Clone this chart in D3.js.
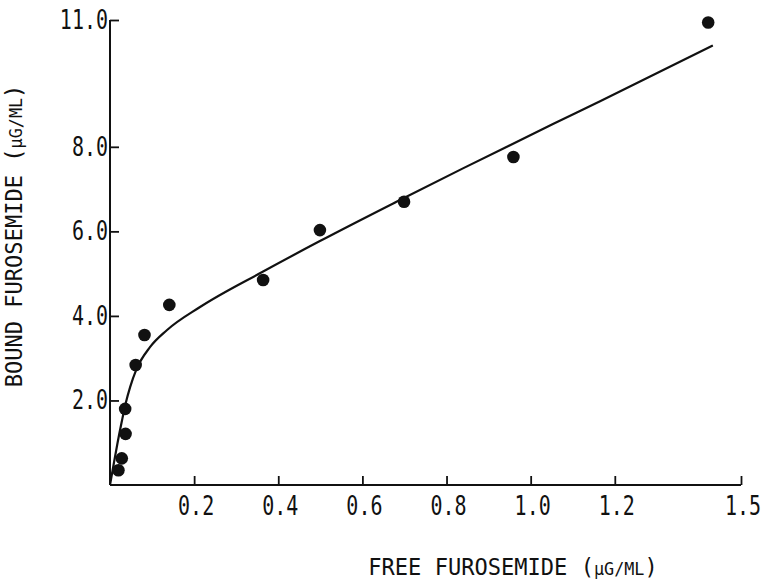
<!DOCTYPE html>
<html>
<head>
<meta charset="utf-8">
<script src="https://cdn.jsdelivr.net/npm/d3@7"></script>
<style>
  body { margin: 0; background: #fff; }
  text { font-family: "DejaVu Sans Mono", monospace; fill: #111; }
</style>
</head>
<body>
<div id="chart"></div>
<script>
/* DATA */
// measured points: free (x) vs bound (y) furosemide, ug/mL
const freeConc = [0.020, 0.028, 0.037, 0.036, 0.061, 0.082, 0.141, 0.364, 0.499, 0.699, 0.959, 1.422];
const boundConc = [0.35, 0.63, 1.21, 1.80, 2.84, 3.55, 4.26, 4.85, 6.03, 6.70, 7.76, 10.94];

// fitted curve
const fitX = [0, 0.008, 0.018, 0.028, 0.037, 0.048, 0.063, 0.095, 0.135, 0.214, 0.364, 0.499, 0.681, 0.839, 1.053, 1.165, 1.433];
const fitY = [0, 0.45, 1.0, 1.5, 1.92, 2.32, 2.74, 3.26, 3.66, 4.21, 5.05, 5.77, 6.70, 7.49, 8.54, 9.08, 10.4];

const xTicks = [0.2, 0.4, 0.6, 0.8, 1.0, 1.2, 1.5];
const yTicks = [2.0, 4.0, 6.0, 8.0, 11.0];

/* LAYOUT */
const width = 766,
  height = 584,
  margin = { top: 20, bottom: 99, left: 110, right: 25 },
  radius = 6.3,
  tickLen = 9;

const svg = d3.select("#chart")
  .append("svg")
  .attr("width", width)
  .attr("height", height);

// scales
const xScale = d3.scaleLinear()
  .domain([0, 1.5])
  .range([margin.left, width - margin.right]);

const yScale = d3.scaleLinear()
  .domain([0, 11])
  .range([height - margin.bottom, margin.top]);

const fmt = d3.format(".1f");
const y0 = yScale(0);

// y axis: ticks point inward (right), labels left
const yAxis = d3.axisRight(yScale)
  .tickValues(yTicks)
  .tickSize(tickLen)
  .tickFormat("");

svg.append("g")
  .attr("class", "axis y-axis")
  .attr("transform", `translate(${margin.left},0)`)
  .call(yAxis)
  .call(g => g.select(".domain").remove())
  .call(g => g.selectAll(".tick line").attr("stroke", "#111").attr("stroke-width", 1.8));

svg.append("line")
  .attr("x1", margin.left).attr("x2", margin.left)
  .attr("y1", yScale(11)).attr("y2", y0)
  .attr("stroke", "#111").attr("stroke-width", 2);

svg.selectAll(".ylab")
  .data(yTicks)
  .join("text")
  .attr("class", "ylab")
  .attr("text-anchor", "end")
  .attr("font-size", 20)
  .attr("transform", d => `translate(${margin.left - 2},${yScale(d) + 9}) scale(1,1.3)`)
  .text(d => fmt(d));

// x axis: ticks point up
const xAxis = d3.axisTop(xScale)
  .tickValues(xTicks)
  .tickSize(tickLen)
  .tickFormat("");

svg.append("g")
  .attr("class", "axis x-axis")
  .attr("transform", `translate(0,${y0})`)
  .call(xAxis)
  .call(g => g.select(".domain").remove())
  .call(g => g.selectAll(".tick line").attr("stroke", "#111").attr("stroke-width", 1.8));

svg.append("line")
  .attr("x1", margin.left).attr("x2", xScale(1.5))
  .attr("y1", y0).attr("y2", y0)
  .attr("stroke", "#111").attr("stroke-width", 2);

svg.selectAll(".xlab")
  .data(xTicks)
  .join("text")
  .attr("class", "xlab")
  .attr("text-anchor", "middle")
  .attr("font-size", 20)
  .attr("transform", d => `translate(${xScale(d) + 2},${y0 + 30}) scale(1,1.3)`)
  .text(d => fmt(d));

// axis titles
const xTitle = svg.append("text")
  .attr("text-anchor", "middle")
  .attr("font-size", 21)
  .attr("transform", `translate(${(368 + 658) / 2},575) scale(1.05,1.1)`);
xTitle.append("tspan").text("FREE FUROSEMIDE (");
xTitle.append("tspan").attr("font-size", 16).text("µG/ML");
xTitle.append("tspan").text(")");

const yTitle = svg.append("text")
  .attr("text-anchor", "middle")
  .attr("font-size", 21)
  .attr("transform", `translate(22,236) rotate(-90) scale(1.05,1.1)`);
yTitle.append("tspan").text("BOUND FUROSEMIDE (");
yTitle.append("tspan").attr("font-size", 16).text("µG/ML");
yTitle.append("tspan").text(")");

// fitted curve
const fitData = fitX.map((x, i) => ({ x, y: fitY[i] }));
const line = d3.line()
  .x(d => xScale(d.x))
  .y(d => yScale(d.y))
  .curve(d3.curveMonotoneX);

svg.append("path")
  .datum(fitData)
  .attr("fill", "none")
  .attr("stroke", "#111")
  .attr("stroke-width", 2.2)
  .attr("d", line);

// data points
const pts = freeConc.map((x, i) => ({ x, y: boundConc[i] }));
svg.selectAll(".dot")
  .data(pts)
  .join("circle")
  .attr("class", "dot")
  .attr("cx", d => xScale(d.x))
  .attr("cy", d => yScale(d.y))
  .attr("r", radius)
  .attr("fill", "#111");
</script>
</body>
</html>
